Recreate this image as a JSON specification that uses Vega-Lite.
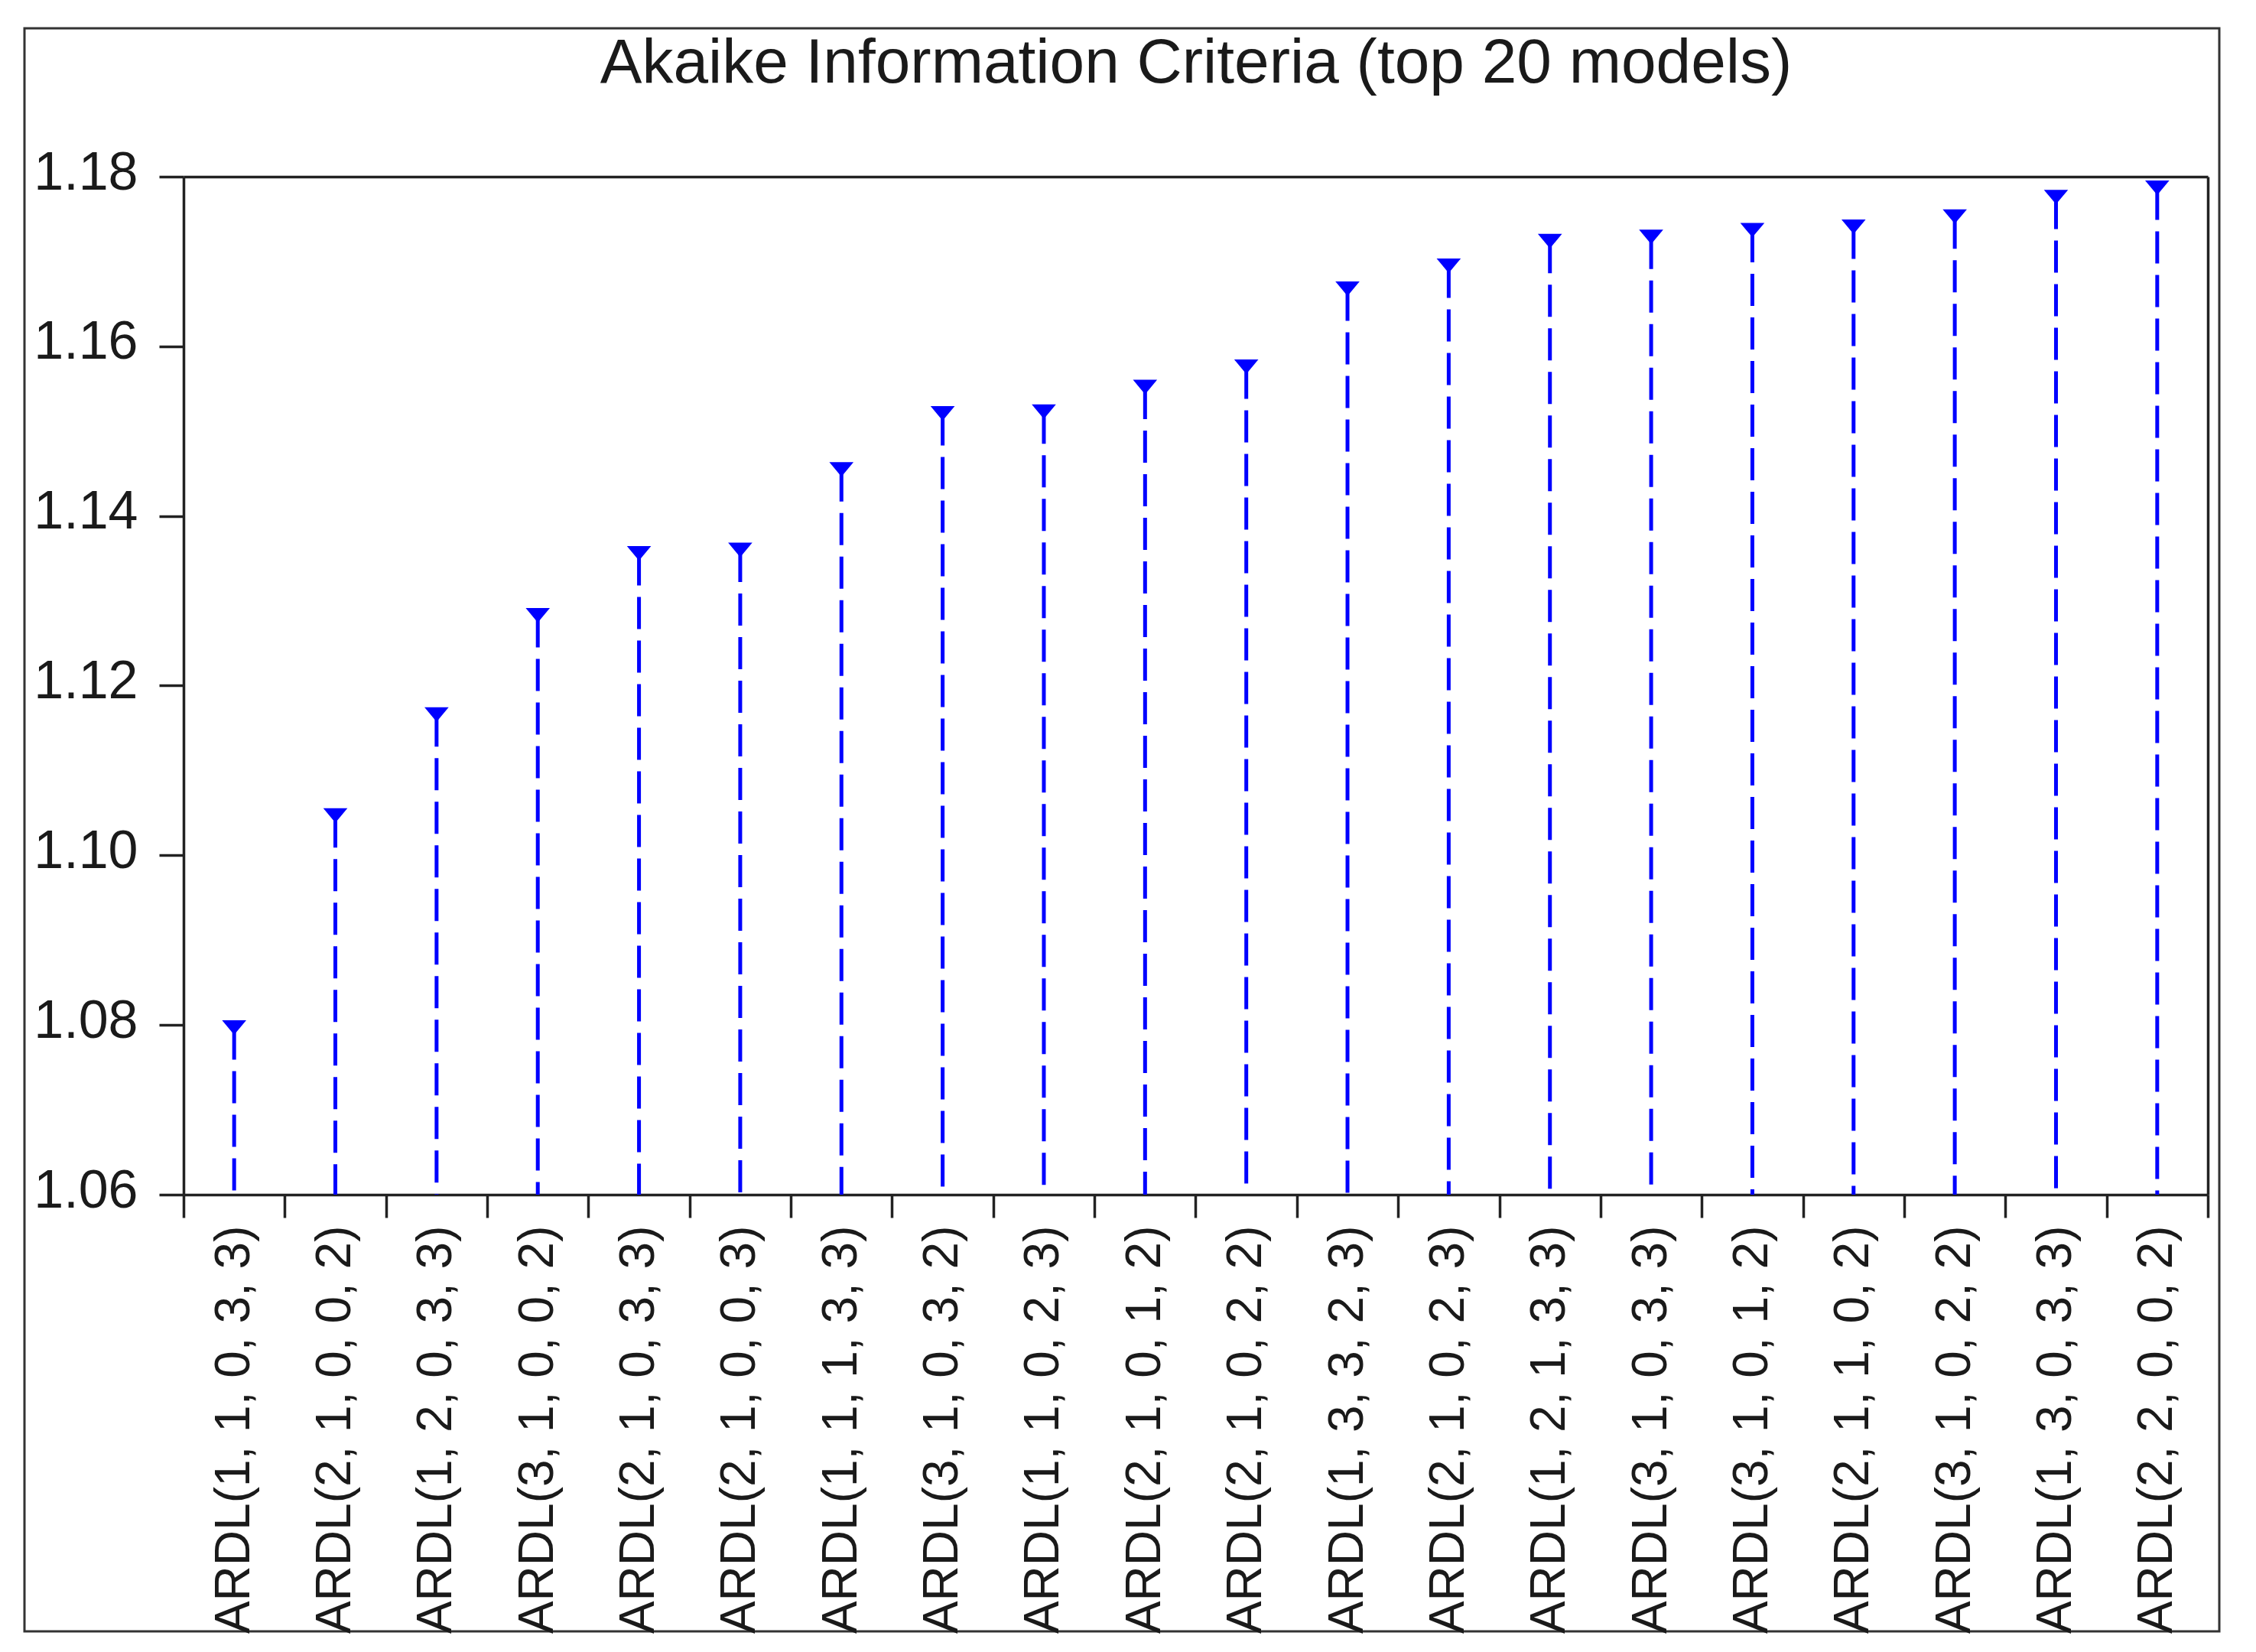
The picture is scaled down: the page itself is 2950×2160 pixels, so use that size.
{
  "$schema": "https://vega.github.io/schema/vega-lite/v6.json",
  "width": 2870,
  "height": 2096,
  "autosize": {"type": "none"},
  "padding": {"left": 32, "top": 37, "right": 48, "bottom": 27},
  "background": "white",
  "config": {
    "view": {"stroke": "#333333", "strokeWidth": 3},
    "axis": {"grid": false}
  },
  "data": {
    "values": [
      {"model": "ARDL(1, 1, 0, 3, 3)", "aic": 1.0797},
      {"model": "ARDL(2, 1, 0, 0, 2)", "aic": 1.1047},
      {"model": "ARDL(1, 2, 0, 3, 3)", "aic": 1.1166},
      {"model": "ARDL(3, 1, 0, 0, 2)", "aic": 1.1283},
      {"model": "ARDL(2, 1, 0, 3, 3)", "aic": 1.1356},
      {"model": "ARDL(2, 1, 0, 0, 3)", "aic": 1.1360},
      {"model": "ARDL(1, 1, 1, 3, 3)", "aic": 1.1455},
      {"model": "ARDL(3, 1, 0, 3, 2)", "aic": 1.1521},
      {"model": "ARDL(1, 1, 0, 2, 3)", "aic": 1.1523},
      {"model": "ARDL(2, 1, 0, 1, 2)", "aic": 1.1552},
      {"model": "ARDL(2, 1, 0, 2, 2)", "aic": 1.1576},
      {"model": "ARDL(1, 3, 3, 2, 3)", "aic": 1.1668},
      {"model": "ARDL(2, 1, 0, 2, 3)", "aic": 1.1695},
      {"model": "ARDL(1, 2, 1, 3, 3)", "aic": 1.1724},
      {"model": "ARDL(3, 1, 0, 3, 3)", "aic": 1.1729},
      {"model": "ARDL(3, 1, 0, 1, 2)", "aic": 1.1737},
      {"model": "ARDL(2, 1, 1, 0, 2)", "aic": 1.1741},
      {"model": "ARDL(3, 1, 0, 2, 2)", "aic": 1.1753},
      {"model": "ARDL(1, 3, 0, 3, 3)", "aic": 1.1776},
      {"model": "ARDL(2, 2, 0, 0, 2)", "aic": 1.1787}
    ]
  },
  "resolve": {"axis": {"x": "independent", "y": "independent"}},
  "layer": [
    {
      "mark": {"type": "rule", "color": "#0000FF", "strokeWidth": 5, "strokeDash": [42, 15]},
      "encoding": {
        "x": {
          "field": "model",
          "type": "nominal",
          "sort": null,
          "scale": {"range": [208, 2855], "paddingInner": 0, "paddingOuter": 0},
          "axis": {
            "orient": "bottom",
            "offset": -571,
            "title": null,
            "tickBand": "extent",
            "labelAngle": -90,
            "labelAlign": "right",
            "labelBaseline": "middle",
            "labelFont": "Liberation Sans",
            "labelFontSize": 64,
            "labelColor": "#1a1a1a",
            "labelPadding": 10,
            "labelLimit": 0,
            "labelOverlap": false,
            "tickSize": 30,
            "tickWidth": 3.5,
            "tickColor": "#222222",
            "domainColor": "#222222",
            "domainWidth": 3.5
          }
        },
        "y": {
          "field": "aic",
          "type": "quantitative",
          "scale": {"domain": [1.06, 1.18], "range": [1525, 194], "zero": false, "nice": false},
          "axis": {
            "orient": "left",
            "offset": -208,
            "title": null,
            "values": [1.06, 1.08, 1.10, 1.12, 1.14, 1.16, 1.18],
            "format": ".2f",
            "labelFont": "Liberation Sans",
            "labelFontSize": 70,
            "labelColor": "#1a1a1a",
            "labelPadding": 28,
            "labelBaseline": "middle",
            "labelOffset": -5,
            "tickSize": 32,
            "tickWidth": 3.5,
            "tickColor": "#222222",
            "domainColor": "#222222",
            "domainWidth": 3.5
          }
        },
        "y2": {"datum": 1.06}
      }
    },
    {
      "mark": {"type": "point", "shape": "M-1,-0.6L1,-0.6L0,0.6Z", "filled": true, "color": "#0000FF", "opacity": 1, "size": 1000},
      "encoding": {
        "x": {
          "field": "model",
          "type": "nominal",
          "sort": null,
          "scale": {"range": [208, 2855], "paddingInner": 0, "paddingOuter": 0},
          "axis": {
            "orient": "top",
            "offset": -194,
            "title": "Akaike Information Criteria (top 20 models)",
            "titleFont": "Liberation Sans",
            "titleFontSize": 82,
            "titleFontWeight": "normal",
            "titleColor": "#1a1a1a",
            "titleBaseline": "alphabetic",
            "titleAnchor": "middle",
            "titlePadding": 124,
            "ticks": false,
            "labels": false,
            "domainColor": "#222222",
            "domainWidth": 3.5
          }
        },
        "y": {
          "field": "aic",
          "type": "quantitative",
          "scale": {"domain": [1.06, 1.18], "range": [1525, 194], "zero": false, "nice": false},
          "axis": {
            "orient": "right",
            "offset": -15,
            "title": null,
            "ticks": false,
            "labels": false,
            "domainColor": "#222222",
            "domainWidth": 3.5
          }
        }
      }
    }
  ]
}
